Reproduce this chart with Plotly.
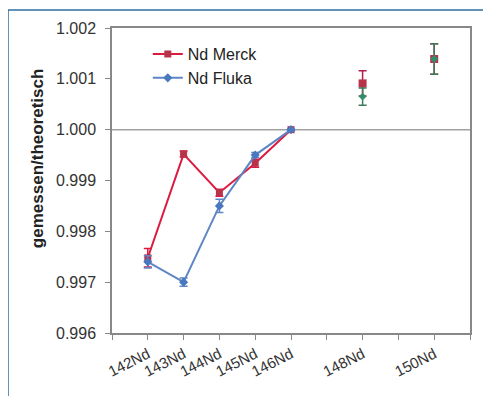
import plotly.graph_objects as go

# ---- data ----
mass = [142, 143, 144, 145, 146, 148, 150]
merck = [0.99748, 0.99952, 0.99876, 0.99934, 1.00000, 1.00091, 1.00139]
merck_err = [0.00018, 0.00006, 0.00007, 0.00008, 0.00002, 0.00025, 0.00030]
fluka = [0.99740, 0.99700, 0.99850, 0.99950, 1.00000, 1.00065, 1.00139]
fluka_err = [0.00012, 0.00008, 0.00013, 0.00005, 0.00002, 0.00017, 0.00030]
tick_positions = [141, 142, 143, 144, 145, 146, 147, 148, 149, 150, 151]
tick_labels = ["", "142Nd", "143Nd", "144Nd", "145Nd", "146Nd", "", "148Nd", "", "150Nd", ""]
y_ticks = [0.996, 0.997, 0.998, 0.999, 1.000, 1.001, 1.002]
y_title = "gemessen/theoretisch"

# page body adds an 8px offset
W, H = 483, 388
L, R, T, B = 104, 21, 18, 63
pw, ph = W - L - R, H - T - B

red = "#dc1a40"
red_mk = "#b8324a"
blue = "#5d86c4"
fl_mk = ["#4a78bf"] * 5 + ["#2f8f6c"] * 2

fig = go.Figure()

fig.add_trace(go.Scatter(
    x=mass[:5], y=merck[:5], mode="lines+markers", name="Nd Merck",
    line=dict(color=red, width=2),
    marker=dict(symbol="square", size=7, color=red_mk),
    error_y=dict(type="data", array=merck_err[:5], color=red, thickness=1.5, width=4),
))
fig.add_trace(go.Scatter(
    x=mass[:5], y=fluka[:5], mode="lines+markers", name="Nd Fluka",
    line=dict(color=blue, width=2),
    marker=dict(symbol="diamond", size=7, color=fl_mk[:5]),
    error_y=dict(type="data", array=fluka_err[:5], color=blue, thickness=1.5, width=4),
))
fig.add_trace(go.Scatter(
    x=mass[5:], y=merck[5:], mode="markers", showlegend=False,
    marker=dict(symbol="square", size=8, color=red_mk),
    error_y=dict(type="data", array=merck_err[5:], color="#b01e4a", thickness=1.5, width=4),
))
fig.add_trace(go.Scatter(
    x=mass[5:], y=fluka[5:], mode="markers", showlegend=False,
    marker=dict(symbol="diamond", size=6, color=fl_mk[5:]),
    error_y=dict(type="data", array=fluka_err[5:], color="#3a7a5a", thickness=1.5, width=4),
))

fx0 = (0 - L) / pw
fy0 = (H - B) / ph
shapes = [
    dict(type="line", xref="paper", yref="y", x0=0, x1=1, y0=1.0, y1=1.0,
         line=dict(color="#a0a0a0", width=1.5), layer="below"),
    dict(type="line", xref="paper", yref="paper",
         x0=fx0, x1=(W + 5 - L) / pw, y0=fy0, y1=fy0,
         line=dict(color="#2b6ea3", width=1.5)),
    dict(type="line", xref="paper", yref="paper",
         x0=fx0, x1=fx0, y0=fy0, y1=(-B - 10) / ph,
         line=dict(color="#2b6ea3", width=1.5)),
]

annotations = [
    dict(text=f"<b>{y_title}</b>", textangle=-90, showarrow=False,
         xref="paper", yref="paper", x=(29 - L) / pw, y=(H - B - 149) / ph,
         xanchor="center", yanchor="middle",
         font=dict(size=17, color="#222222")),
]

fig.update_layout(
    width=W, height=H,
    margin=dict(l=L, r=R, t=T, b=B),
    paper_bgcolor="white", plot_bgcolor="white",
    font=dict(family="Liberation Sans, Arial, sans-serif", color="#333333"),
    showlegend=True,
    legend=dict(x=0.1, y=0.97, xanchor="left", yanchor="top",
                font=dict(size=16, color="#222222"), bgcolor="rgba(0,0,0,0)",
                tracegroupgap=0, itemwidth=30),
    shapes=shapes,
    annotations=annotations,
    xaxis=dict(range=[141, 151], tickmode="array", tickvals=tick_positions,
               ticktext=tick_labels, tickangle=-27, ticks="outside", ticklen=5,
               tickcolor="#888888", showline=True, linecolor="#888888", linewidth=1.5,
               mirror=True, showgrid=False, zeroline=False,
               tickfont=dict(size=15, color="#333333")),
    yaxis=dict(range=[0.996, 1.002], tickmode="array", tickvals=y_ticks,
               ticktext=[f"{v:.3f}" for v in y_ticks], ticks="outside", ticklen=5,
               tickcolor="#888888", showline=True, linecolor="#888888", linewidth=1.5,
               mirror=True, showgrid=False, zeroline=False, ticklabelstandoff=6,
               tickfont=dict(size=16, color="#333333")),
)

fig.write_html("out.html")
